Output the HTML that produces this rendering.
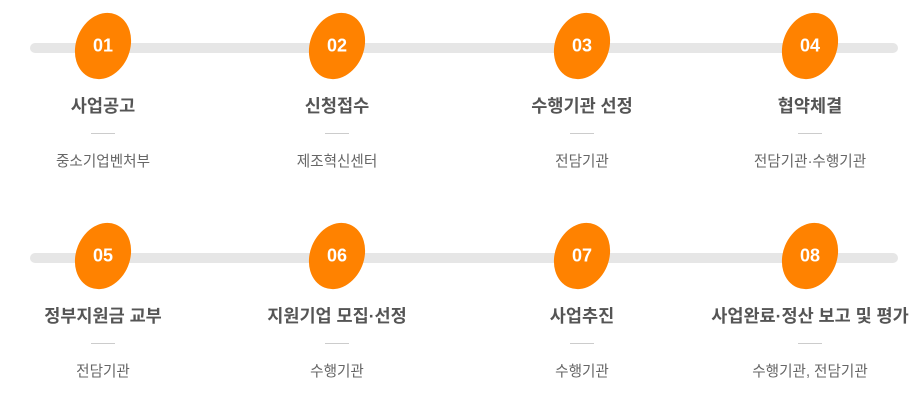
<!DOCTYPE html>
<html><head><meta charset="utf-8"><style>
body{margin:0;width:920px;height:420px;background:#fff;position:relative;overflow:hidden;font-family:"Liberation Sans","Noto Sans CJK KR",sans-serif}
.bar{position:absolute;left:30px;width:868px;height:10px;border-radius:5px;background:#e6e6e6}
.blob{position:absolute;width:54px;height:68px;background:#ff8200;border-radius:50%;transform:translate(-50%,-50%) rotate(22deg)}
.num{position:absolute;transform:translate(-50%,-50%);color:#fff;font-weight:bold;font-size:18px}
.t{position:absolute;transform:translateX(-50%);white-space:nowrap;color:#555;font-weight:bold;font-size:17.5px}
.d{position:absolute;width:24px;height:1px;background:#ccc;transform:translateX(-50%)}
.s{position:absolute;transform:translateX(-50%);white-space:nowrap;color:#666;font-size:14.6px}
</style></head><body>
<div class="bar" style="top:43px"></div>
<div class="bar" style="top:253px"></div>
<div id="c"></div>
<script>
const cols=[103,337,582,810];
const rows=[[46,"01","사업공고","중소기업벤처부"],[46,"02","신청접수","제조혁신센터"],[46,"03","수행기관 선정","전담기관"],[46,"04","협약체결","전담기관·수행기관"],
[256,"05","정부지원금 교부","전담기관"],[256,"06","지원기업 모집·선정","수행기관"],[256,"07","사업추진","수행기관"],[256,"08","사업완료·정산 보고 및 평가","수행기관, 전담기관"]];
let h="";
rows.forEach((r,i)=>{const x=cols[i%4],y=r[0];
h+=`<div class="blob" style="left:${x}px;top:${y}px"></div><div class="num" style="left:${x}px;top:${y}px">${r[1]}</div>
<div class="t" style="left:${x}px;top:${y+47}px">${r[2]}</div><div class="d" style="left:${x}px;top:${y+87}px"></div>
<div class="s" style="left:${x}px;top:${y+104}px">${r[3]}</div>`;});
document.getElementById("c").innerHTML=h;
</script>
</body></html>
